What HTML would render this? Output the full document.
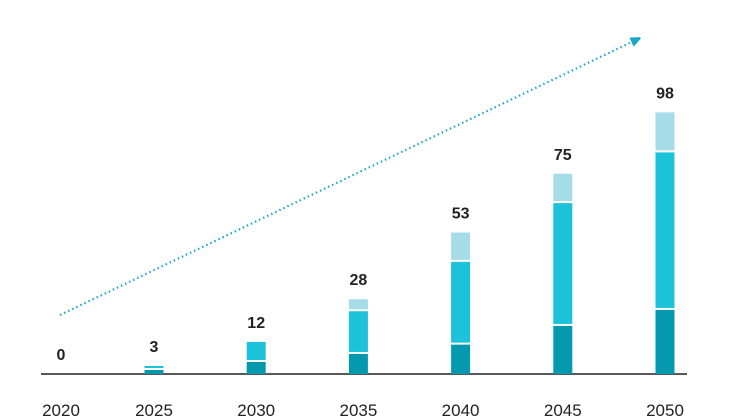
<!DOCTYPE html>
<html><head><meta charset="utf-8"><style>
html,body{margin:0;padding:0;background:#fff;}
svg{display:block;font-family:"Liberation Sans",sans-serif;}
</style></head><body>
<svg id="chart" width="746" height="419" viewBox="0 0 746 419">
<defs><marker id="ah" markerWidth="10" markerHeight="10" refX="5" refY="5" orient="auto" markerUnits="userSpaceOnUse"><path d="M0,0 L12,5 L0,10 Z" fill="#17A9C6"/></marker></defs>
<line x1="60" y1="315" x2="636" y2="40" stroke="#17A9C6" stroke-width="2.2" stroke-dasharray="1.5 3" marker-end="url(#ah)"/>
<line x1="41" y1="374" x2="687" y2="374" stroke="#222" stroke-width="1.5"/>
<g id="bars"></g>
</svg>
<script>
const categories = ["2020","2025","2030","2035","2040","2045","2050"];
const seriesDark = [0, 1.5, 4.5, 7.5, 11, 18, 24];
const seriesMid = [0, 1.5, 7.5, 16, 31, 46, 59];
const seriesLight = [0, 0, 0, 4.5, 11, 11, 15];
const totals = ["0","3","12","28","53","75","98"];
const colors = ["#0499AE","#1BC2D9","#A5DCE8"];
const base = 374, pxPerUnit = 2.67, barW = 19;
function x(i){ return i === 0 ? 61 : 154 + (i - 1) * 102.2; }
function yv(v){ return base - v * pxPerUnit; }
const g = document.getElementById('bars');
const ns = "http://www.w3.org/2000/svg";
categories.forEach((c, i) => {
  const vals = [seriesDark[i], seriesMid[i], seriesLight[i]];
  let cum = 0;
  const names = ['dark','mid','light'];
  vals.forEach((v, k) => {
    if (v <= 0) return;
    const y0 = yv(cum), y1 = yv(cum + v);
    const r = document.createElementNS(ns, 'rect');
    
    
    r.setAttribute('x', x(i) - barW / 2);
    r.setAttribute('width', barW);
    const top = y1, bottom = cum > 0 ? y0 - 2 : y0;
    r.setAttribute('y', top);
    r.setAttribute('height', Math.max(1, bottom - top));
    r.setAttribute('fill', colors[k]);
    g.appendChild(r);
    cum += v;
  });
  const total = cum;
  const t = document.createElementNS(ns, 'text');
  
  
  t.setAttribute('x', x(i));
  t.setAttribute('y', yv(total) - 14);
  t.setAttribute('text-anchor', 'middle');
  t.setAttribute('font-size', '16');
  t.setAttribute('font-weight', 'bold');
  t.setAttribute('fill', '#222');
  t.textContent = totals[i];
  g.appendChild(t);
  const l = document.createElementNS(ns, 'text');
  
  
  l.setAttribute('x', x(i));
  l.setAttribute('y', 416);
  l.setAttribute('text-anchor', 'middle');
  l.setAttribute('font-size', '17');
  l.setAttribute('fill', '#222');
  l.textContent = c;
  g.appendChild(l);
});
</script>
</body></html>
